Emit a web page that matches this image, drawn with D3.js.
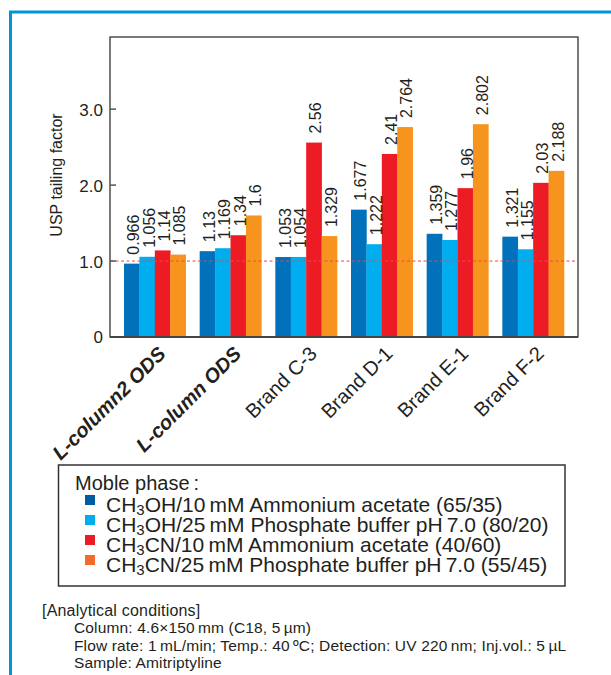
<!DOCTYPE html>
<html><head><meta charset="utf-8">
<script src="https://cdn.jsdelivr.net/npm/d3@7"></script>
<style>
body{margin:0;background:#fff}
svg{display:block}
text{font-family:"Liberation Sans",Arial,Helvetica,sans-serif;fill:#231F20}
</style>
</head><body>
<svg id="c" width="611" height="675"></svg>
<script>
// ---------- data ----------
const categories = ["L-column2 ODS","L-column ODS","Brand C-3","Brand D-1","Brand E-1","Brand F-2"];
const boldCategories = ["L-column2 ODS","L-column ODS"];
const seriesKeys = ["meohAcetate","meohPhosphate","mecnAcetate","mecnPhosphate"];
const meohAcetate   = [0.966, 1.13, 1.053, 1.677, 1.359, 1.321];
const meohPhosphate = [1.056, 1.169, 1.054, 1.222, 1.277, 1.155];
const mecnAcetate   = [1.14, 1.34, 2.56, 2.41, 1.96, 2.03];
const mecnPhosphate = [1.085, 1.6, 1.329, 2.764, 2.802, 2.188];
const seriesValues = [meohAcetate, meohPhosphate, mecnAcetate, mecnPhosphate];
const valueLabels = [
  ["0.966","1.13","1.053","1.677","1.359","1.321"],
  ["1.056","1.169","1.054","1.222","1.277","1.155"],
  ["1.14","1.34","2.56","2.41","1.96","2.03"],
  ["1.085","1.6","1.329","2.764","2.802","2.188"]
];
const seriesColors = ["#0071BA","#00AEEF","#ED1C24","#F7941D"];
const legendColors = ["#005BA1","#00AEEF","#ED1C24","#F26B2B"];
const legendTitle = "Moble phase";
const legendTitleColon = ":";
const legendLabels = [
  ["CH","3","OH/10\u2009mM Ammonium acetate (65/35)"],
  ["CH","3","OH/25\u2009mM Phosphate buffer pH\u20097.0 (80/20)"],
  ["CH","3","CN/10\u2009mM Ammonium acetate (40/60)"],
  ["CH","3","CN/25\u2009mM Phosphate buffer pH\u20097.0 (55/45)"]
];
const yTicks = [0, 1, 2, 3];
const yTickLabels = ["0","1.0","2.0","3.0"];
const yMax = 3.95;
const referenceValue = 1.0;
const yTitle = "USP tailing factor";
const conditionsTitle = "[Analytical conditions]";
const conditions = [
  "Column: 4.6\u00D7150\u2009mm (C18, 5\u2009\u00B5m)",
  "Flow rate: 1\u2009mL/min; Temp.: 40\u2009\u00BAC; Detection: UV 220\u2009nm; Inj.vol.: 5\u2009\u00B5L",
  "Sample: Amitriptyline"
];

// ---------- drawing ----------
const svg = d3.select("#c");
const L = 110, R = 578, T = 37, B = 337;

// outer blue border
svg.append("path").attr("d","M10.5,675 V12 H611").attr("fill","none")
  .attr("stroke","#0095DA").attr("stroke-width",3);

const x0 = d3.scaleBand().domain(categories).range([L, R]).paddingInner(0.185).paddingOuter(0.185);
const x1 = d3.scaleBand().domain(seriesKeys).range([0, x0.bandwidth()]);
const y = d3.scaleLinear().domain([0, yMax]).range([B, T]);

// frame
svg.append("rect").attr("x",L).attr("y",T).attr("width",R-L).attr("height",B-T)
  .attr("fill","#fff").attr("stroke","#222").attr("stroke-width",1.2);

// bars
const rows = categories.map((c,i)=>({cat:c, vals: seriesKeys.map((k,j)=>({key:k, j, v:seriesValues[j][i], lab:valueLabels[j][i]}))}));
const g = svg.append("g");
const grp = g.selectAll("g").data(rows).join("g").attr("transform",d=>`translate(${x0(d.cat)},0)`);
grp.selectAll("rect").data(d=>d.vals).join("rect")
  .attr("x",d=>x1(d.key)).attr("width",x1.bandwidth()+0.3)
  .attr("y",d=>y(d.v)).attr("height",d=>y(0)-y(d.v))
  .attr("fill",d=>seriesColors[d.j]);
grp.selectAll("text").data(d=>d.vals).join("text")
  .attr("transform",d=>`translate(${x1(d.key)+x1.bandwidth()/2+7.5},${y(d.v)-9}) rotate(-90)`)
  .attr("text-anchor","start").attr("font-size",16).text(d=>d.lab);

// bottom axis line
svg.append("line").attr("x1",L).attr("x2",R).attr("y1",B).attr("y2",B)
  .attr("stroke","#444").attr("stroke-width",2);

// reference dashed line
svg.append("line").attr("x1",L).attr("x2",R).attr("y1",y(referenceValue)).attr("y2",y(referenceValue))
  .attr("stroke","#E8474B").attr("stroke-width",1).attr("stroke-dasharray","3,2.5");

// y ticks
const yt = svg.append("g");
yt.selectAll("line").data(yTicks.filter(t=>t>0)).join("line")
  .attr("x1",L).attr("x2",L+6).attr("y1",d=>y(d)).attr("y2",d=>y(d))
  .attr("stroke","#555").attr("stroke-width",1.5);
yt.selectAll("text").data(yTicks).join("text")
  .attr("x",103).attr("y",d=>y(d)).attr("dy","0.38em").attr("text-anchor","end")
  .attr("font-size",17).text((d,i)=>yTickLabels[i]);

svg.append("text").attr("transform",`translate(62,175) rotate(-90)`).attr("text-anchor","middle")
  .attr("font-size",16).text(yTitle);

// x labels
svg.append("g").selectAll("text").data(categories).join("text")
  .attr("transform",d=>`translate(${x0(d)+x0.bandwidth()/2+12},355) rotate(-45)`)
  .attr("text-anchor","end").attr("font-size",20)
  .attr("font-weight",d=>boldCategories.includes(d)?"bold":"normal")
  .attr("font-style",d=>boldCategories.includes(d)?"italic":"normal")
  .text(d=>d);

// legend
const lg = svg.append("g");
lg.append("rect").attr("x",58.5).attr("y",465).attr("width",506.5).attr("height",121)
  .attr("fill","#fff").attr("stroke","#333").attr("stroke-width",1.5);
const lt = lg.append("text").attr("x",75).attr("y",490).attr("font-size",20);
lt.append("tspan").text(legendTitle);
lt.append("tspan").attr("dx",4).text(legendTitleColon);
legendLabels.forEach((parts,i)=>{
  const by = 512 + i*20;
  lg.append("rect").attr("x",85).attr("y",by-17).attr("width",10).attr("height",10).attr("fill",legendColors[i]);
  const t = lg.append("text").attr("x",106).attr("y",by).attr("font-size",21);
  t.append("tspan").text(parts[0]);
  t.append("tspan").attr("font-size",15).attr("dy",3).text(parts[1]);
  t.append("tspan").attr("dy",-3).text(parts[2]);
});

// conditions
const cg = svg.append("g");
cg.append("text").attr("x",42).attr("y",616).attr("font-size",16).attr("letter-spacing",0.2).text(conditionsTitle);
conditions.forEach((c,i)=>{
  cg.append("text").attr("x",74).attr("y",633+i*17.5).attr("font-size",15.5).attr("letter-spacing",0.15).text(c);
});
</script>
</body></html>
